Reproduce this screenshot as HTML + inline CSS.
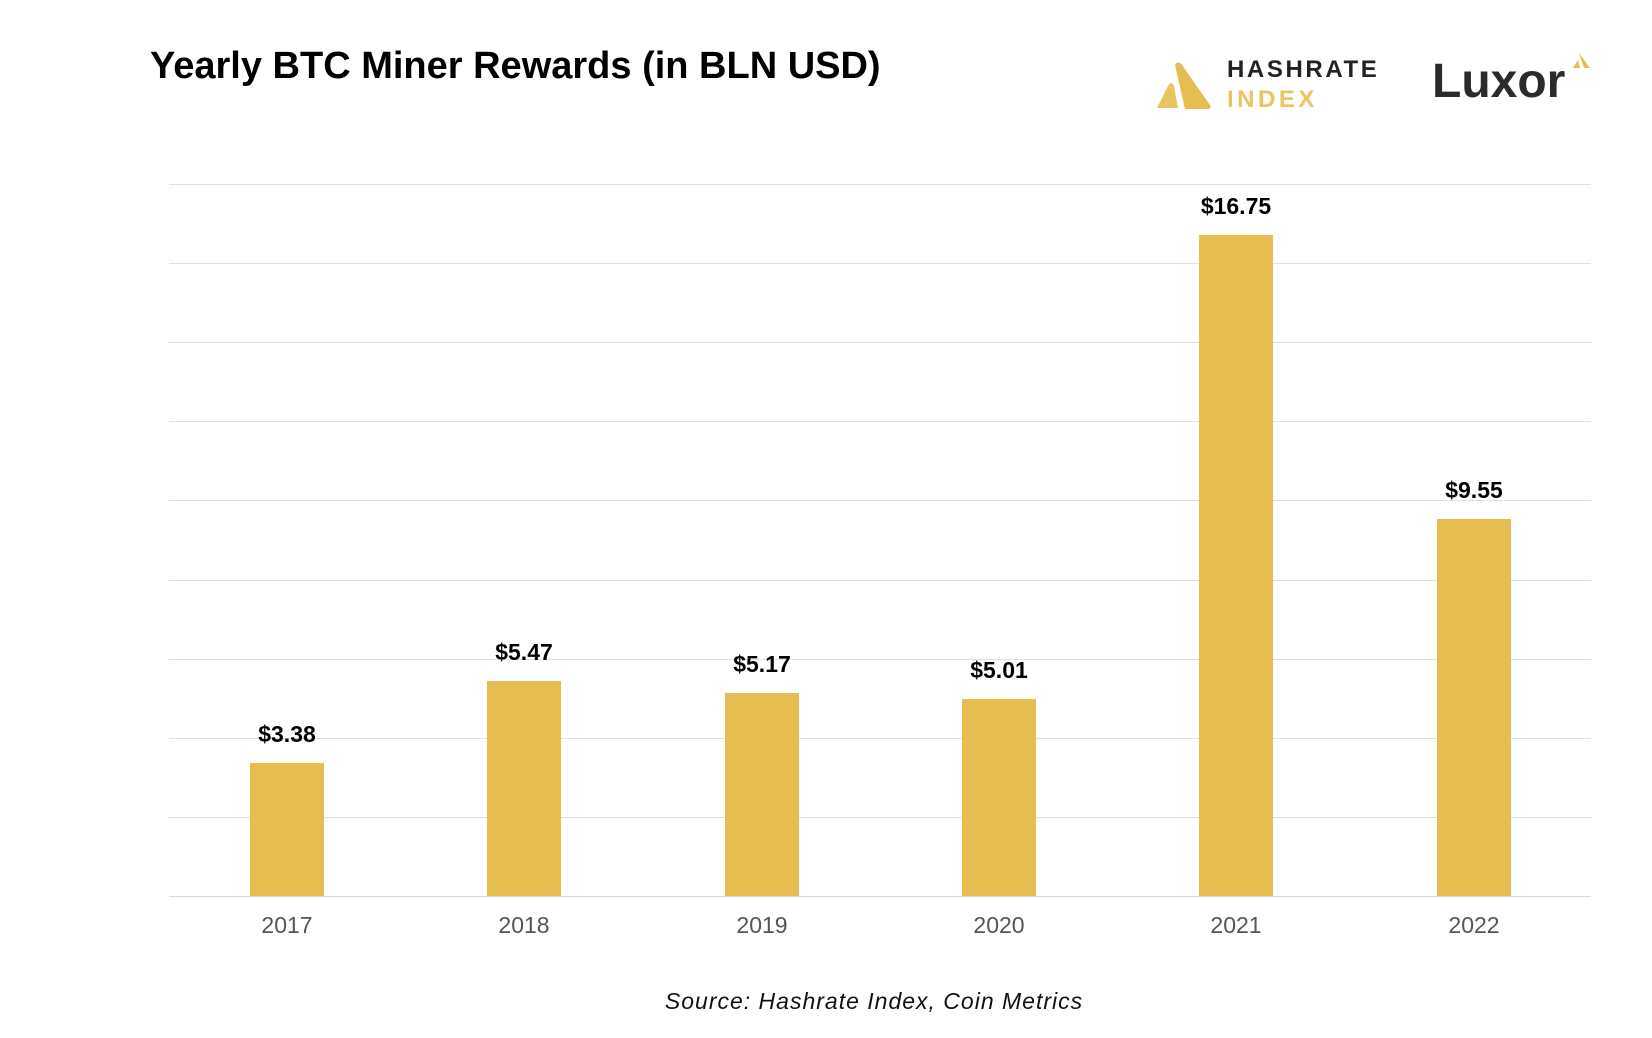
<!DOCTYPE html>
<html><head><meta charset="utf-8"><style>
body{margin:0;width:1652px;height:1038px;background:#fff;font-family:"Liberation Sans",sans-serif;position:relative;overflow:hidden}
.a{position:absolute}
.g{position:absolute;left:169px;width:1422px;height:1px;background:#e0e0e0}
.b{position:absolute;width:74px;background:#e6bd50}
.v{position:absolute;width:160px;text-align:center;font-weight:bold;font-size:23px;color:#000}
.y{position:absolute;top:912px;width:160px;text-align:center;font-size:23px;color:#555}
</style></head><body>
<div class="a" style="left:150px;top:45px;font-size:38px;font-weight:bold;color:#000">Yearly BTC Miner Rewards (in BLN USD)</div>
<svg class="a" style="left:1155px;top:60px" width="58" height="52"><path d="M2 48 L13 26 Q16 20 19 26 L23 48 Z" fill="#e8c560"/><path d="M20 5 Q23 0 27 5 L55 45 Q57 49 52 49 L30 49 Z" fill="#e6bd50"/></svg>
<div class="a" style="left:1227px;top:56px;font-size:24px;font-weight:bold;letter-spacing:2.6px;color:#222">HASHRATE</div>
<div class="a" style="left:1227px;top:86px;font-size:24px;font-weight:bold;letter-spacing:3.5px;color:#ecc45e">INDEX</div>
<div class="a" style="left:1432px;top:54px;font-size:48px;font-weight:bold;color:#2b2b2b">Luxor</div>
<svg class="a" style="left:1572px;top:52px" width="20" height="18"><path d="M1 16 L6 8 L8 16 Z M7 1 L18 16 L12 16 Z" fill="#e6bd50"/></svg>
<div class="g" style="top:184px"></div><div class="g" style="top:263px"></div><div class="g" style="top:342px"></div><div class="g" style="top:421px"></div><div class="g" style="top:500px"></div><div class="g" style="top:580px"></div><div class="g" style="top:659px"></div><div class="g" style="top:738px"></div><div class="g" style="top:817px"></div><div class="g" style="top:896px;background:#d8d8d8"></div>
<div class="b" style="left:250px;top:763px;height:133px"></div>
<div class="b" style="left:487px;top:681px;height:215px"></div>
<div class="b" style="left:725px;top:693px;height:203px"></div>
<div class="b" style="left:962px;top:699px;height:197px"></div>
<div class="b" style="left:1199px;top:235px;height:661px"></div>
<div class="b" style="left:1437px;top:519px;height:377px"></div>
<div class="v" style="left:207px;top:721px">$3.38</div>
<div class="v" style="left:444px;top:639px">$5.47</div>
<div class="v" style="left:682px;top:651px">$5.17</div>
<div class="v" style="left:919px;top:657px">$5.01</div>
<div class="v" style="left:1156px;top:193px">$16.75</div>
<div class="v" style="left:1394px;top:477px">$9.55</div>
<div class="y" style="left:207px">2017</div><div class="y" style="left:444px">2018</div><div class="y" style="left:682px">2019</div><div class="y" style="left:919px">2020</div><div class="y" style="left:1156px">2021</div><div class="y" style="left:1394px">2022</div>
<div class="a" style="left:524px;width:700px;text-align:center;top:988px;font-size:23px;font-style:italic;color:#111;letter-spacing:1px">Source: Hashrate Index, Coin Metrics</div>
</body></html>
